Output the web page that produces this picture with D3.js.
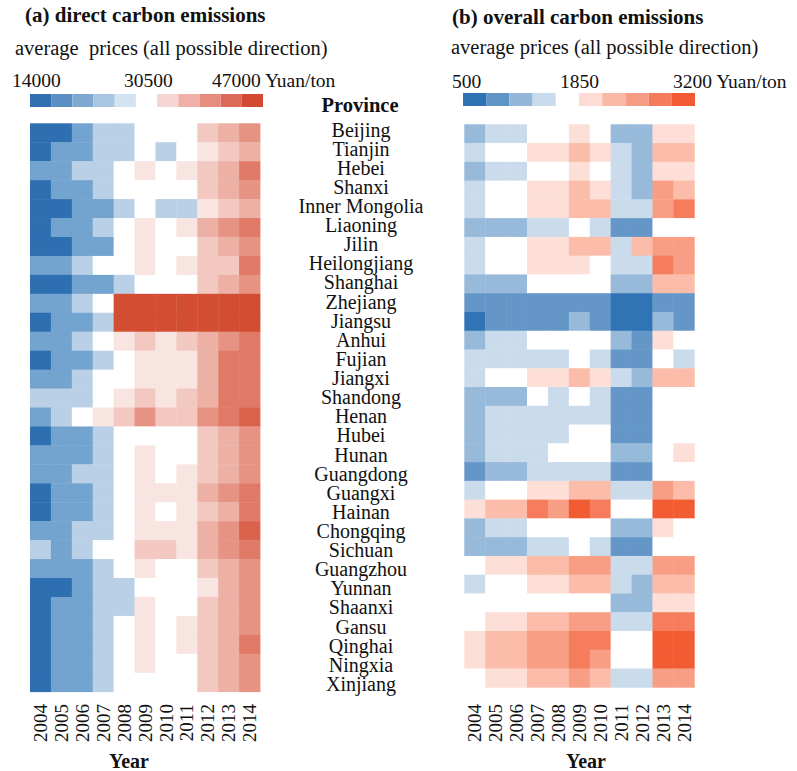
<!DOCTYPE html>
<html>
<head>
<meta charset="utf-8">
<script src="https://cdn.jsdelivr.net/npm/d3@7"></script>
<style>
  body { margin: 0; background: #fff; }
  svg text { font-family: "Liberation Serif", "Times New Roman", serif; fill: #111; white-space: pre; }
</style>
</head>
<body>
<div id="chart"></div>
<script>
// data
var years = ["2004","2005","2006","2007","2008","2009","2010","2011","2012","2013","2014"];
var provinces = ["Beijing","Tianjin","Hebei","Shanxi","Inner Mongolia","Liaoning","Jilin","Heilongjiang",
    "Shanghai","Zhejiang","Jiangsu","Anhui","Fujian","Jiangxi","Shandong","Henan","Hubei","Hunan",
    "Guangdong","Guangxi","Hainan","Chongqing","Sichuan","Guangzhou","Yunnan","Shaanxi","Gansu",
    "Qinghai","Ningxia","Xinjiang"];

// (a) price class per cell: -3 dark blue ... 0 white ... 7 deepest red
var directLevels = [
    [-3,-3,-2,-1,-1,0,0,0,2,3,4],
    [-3,-2,-2,-1,-1,0,-1,0,1,2,3],
    [-2,-2,-1,-1,0,1,0,1,2,3,5],
    [-3,-2,-2,-1,0,0,0,0,2,3,4],
    [-3,-3,-2,-2,-1,0,-1,-1,1,2,3],
    [-3,-2,-2,-1,0,1,0,1,3,4,5],
    [-3,-3,-2,-2,0,1,0,0,2,3,4],
    [-2,-2,-1,0,0,1,0,1,2,2,5],
    [-3,-3,-2,-2,-1,0,0,0,2,3,4],
    [-2,-2,-1,0,7,7,7,7,7,7,7],
    [-3,-2,-2,-1,7,7,7,7,7,7,7],
    [-2,-2,-1,0,1,2,1,2,3,4,5],
    [-3,-2,-2,-1,0,1,1,1,3,5,5],
    [-2,-2,-1,0,0,1,1,1,3,5,5],
    [-1,-1,-1,0,1,2,1,2,3,5,5],
    [-2,-1,0,1,2,4,2,2,4,5,6],
    [-3,-2,-2,-1,0,0,0,0,2,3,4],
    [-2,-2,-2,-1,0,1,0,0,2,3,4],
    [-2,-2,-1,-1,0,1,0,1,2,3,4],
    [-3,-2,-2,-1,0,1,1,1,3,4,5],
    [-3,-2,-2,-1,0,1,0,1,2,3,5],
    [-2,-2,-1,-1,0,1,1,1,3,4,6],
    [-1,-2,-1,0,0,2,2,1,3,4,5],
    [-2,-2,-2,-1,0,1,0,0,2,3,4],
    [-3,-3,-2,-1,-1,0,0,0,1,3,4],
    [-3,-2,-2,-1,-1,1,0,0,2,3,4],
    [-3,-2,-2,-1,0,1,0,1,2,3,4],
    [-3,-2,-2,-1,0,1,0,1,2,3,5],
    [-3,-2,-2,-1,0,1,0,0,2,3,4],
    [-3,-2,-2,-1,0,0,0,0,2,3,4]
];

// (b) price class per cell: -4 dark blue ... 0 white ... 5 dark red
var overallLevels = [
    [-2,-1,-1,0,0,1,0,-2,-2,1,1],
    [-1,0,0,1,1,2,1,-1,-2,2,2],
    [-2,-1,-1,0,0,1,0,-1,-2,1,1],
    [-1,0,0,1,1,2,1,-1,-2,3,2],
    [-1,0,0,1,1,2,2,-1,-1,3,4],
    [-2,-2,-2,-1,-1,0,-1,-3,-3,0,0],
    [-1,0,0,1,1,2,2,-1,2,3,3],
    [-1,0,0,1,1,1,0,-1,-1,4,3],
    [-2,-2,-2,0,0,0,0,-2,-2,2,2],
    [-3,-3,-3,-3,-3,-3,-3,-4,-4,-3,-3],
    [-4,-3,-3,-3,-3,-2,-3,-4,-4,-2,-3],
    [-2,-1,-1,0,0,0,0,-2,-3,1,0],
    [-1,-1,-1,-1,-1,0,-1,-3,-3,0,-1],
    [-1,0,0,1,1,2,1,-1,-2,2,2],
    [-2,-2,-2,0,-1,0,-1,-3,-3,0,0],
    [-2,-1,-1,-1,-1,-1,-1,-3,-3,0,0],
    [-2,-1,-1,-1,-1,0,0,-3,-3,0,0],
    [-2,-1,-1,-1,0,0,0,-2,-2,0,1],
    [-3,-2,-2,-1,-1,-1,-1,-3,-3,0,0],
    [-1,0,0,1,1,2,2,-1,-1,3,2],
    [1,2,2,4,3,5,4,0,0,5,5],
    [-2,-1,-1,0,0,0,0,-2,-2,1,0],
    [-2,-2,-2,-1,-1,0,-1,-3,-3,0,0],
    [0,1,1,2,2,3,3,-1,-1,3,3],
    [-1,0,0,1,1,2,2,-1,-2,2,2],
    [0,0,0,0,0,0,0,-2,-2,1,1],
    [0,1,1,2,2,3,3,-1,-1,4,4],
    [1,2,2,3,3,4,4,0,0,5,5],
    [1,2,2,3,3,4,3,0,0,5,5],
    [0,1,1,2,2,3,2,-1,-1,3,3]
];

var directTicks = ["14000", "30500", "47000 Yuan/ton"];
var overallTicks = ["500", "1850", "3200 Yuan/ton"];

var W = 797, H = 771;
var svg = d3.select("#chart").append("svg")
    .attr("width", W)
    .attr("height", H);

function Heatmap(opts) {
    var self = this;
    self.o = opts;
    self.init();
}

Heatmap.prototype.init = function() {
    var self = this;
    var o = self.o;
    self.g = svg.append("g");

    // title + subtitle
    self.g.append("text")
        .attr("x", o.titleX).attr("y", o.titleY)
        .attr("font-size", "21px").attr("font-weight", "bold")
        .text(o.title);
    self.g.append("text")
        .attr("x", o.subX).attr("y", o.subY)
        .attr("font-size", "20.5px")
        .text(o.subtitle);

    // legend swatches, the middle slot stays empty
    var nSlots = o.legendColors.length;
    var lx = d3.scaleBand().domain(d3.range(nSlots)).range(o.legendRange);
    self.g.selectAll("rect.leg").data(o.legendColors)
        .enter().append("rect")
        .attr("class", "leg")
        .attr("x", function(d, i) { return lx(i); })
        .attr("y", o.legendY)
        .attr("width", lx.bandwidth())
        .attr("height", 13)
        .attr("fill", function(d) { return d; });

    self.g.selectAll("text.tick").data(o.ticks)
        .enter().append("text")
        .attr("class", "tick")
        .attr("x", function(d, i) { return o.tickX[i]; })
        .attr("y", o.tickY)
        .attr("font-size", "19.5px")
        .text(function(d) { return d; });

    self.update();
};

Heatmap.prototype.update = function() {
    var self = this;
    var o = self.o;

    var x = d3.scaleBand().domain(years).range([o.x0, o.x1]);
    var y = d3.scaleBand().domain(provinces).range([o.y0, o.y1]);
    var color = d3.scaleOrdinal().domain(o.levelDomain).range(o.cellColors);

    var cells = [];
    o.levels.forEach(function(row, i) {
        row.forEach(function(v, j) {
            cells.push({prov: provinces[i], year: years[j], level: v});
        });
    });

    self.g.selectAll("rect.cell").data(cells)
        .enter().append("rect")
        .attr("class", "cell")
        .attr("x", function(d) { return x(d.year); })
        .attr("y", function(d) { return y(d.prov); })
        .attr("width", x.bandwidth() + 0.4)
        .attr("height", y.bandwidth() + 0.4)
        .attr("fill", function(d) { return color(d.level); });

    // rotated year labels under the grid
    self.g.selectAll("text.year").data(years)
        .enter().append("text")
        .attr("class", "year")
        .attr("transform", function(d) {
            return "translate(" + (x(d) + x.bandwidth() / 2) + "," + o.yearTop + ") rotate(-90)";
        })
        .attr("dy", "0.35em")
        .attr("text-anchor", "end")
        .attr("font-size", "19px")
        .text(function(d) { return d; });

    self.g.append("text")
        .attr("x", o.yearLabelX).attr("y", 768)
        .attr("text-anchor", "middle")
        .attr("font-size", "20px").attr("font-weight", "bold")
        .text("Year");
};

var blueA = ["#2e6fb2", "#73a3cf", "#b9d0e6"];
var redA = ["#f8e4e1", "#f3c8c0", "#edb0a5", "#e69384", "#e07a67", "#d9624c", "#d24d32"];

var left = new Heatmap({
    title: "(a) direct carbon emissions",
    subtitle: "average  prices (all possible direction)",
    titleX: 25, titleY: 22, subX: 15, subY: 55,
    legendColors: ["#2f6fb2", "#5b8fc4", "#7ea8d2", "#a8c5e1", "#d4e3f1", "#ffffff",
                   "#f6d6d2", "#efb1a7", "#e68d7f", "#dd6a59", "#d24a31"],
    legendRange: [30, 263], legendY: 94,
    ticks: directTicks, tickX: [12, 124, 212], tickY: 87,
    levels: directLevels,
    levelDomain: [-3, -2, -1, 0, 1, 2, 3, 4, 5, 6, 7],
    cellColors: blueA.concat(["#ffffff"]).concat(redA),
    x0: 30, x1: 260, y0: 123.3, y1: 691.7,
    yearTop: 704, yearLabelX: 129
});

var right = new Heatmap({
    title: "(b) overall carbon emissions",
    subtitle: "average prices (all possible direction)",
    titleX: 452, titleY: 24, subX: 451, subY: 54,
    legendColors: ["#2f72b4", "#5f94c6", "#93b6d9", "#c9dbec", "#ffffff",
                   "#fcdcd5", "#fab9a7", "#f69c82", "#f47b5c", "#f15a33"],
    legendRange: [463, 695], legendY: 93,
    ticks: overallTicks, tickX: [452, 560, 673], tickY: 88,
    levels: overallLevels,
    levelDomain: [-4, -3, -2, -1, 0, 1, 2, 3, 4, 5],
    cellColors: ["#3174b5", "#6497c7", "#97b9da", "#cadbec", "#ffffff",
                 "#fddfd7", "#fbbca9", "#f79e84", "#f57d5d", "#f15c33"],
    x0: 464.3, x1: 694.3, y0: 124.3, y1: 687.3,
    yearTop: 704, yearLabelX: 586
});

// province names between the two grids
var py = d3.scaleBand().domain(provinces).range([123.5, 697]);
svg.append("text")
    .attr("x", 360).attr("y", 112)
    .attr("text-anchor", "middle")
    .attr("font-size", "20.5px").attr("font-weight", "bold")
    .text("Province");
svg.selectAll("text.prov").data(provinces)
    .enter().append("text")
    .attr("class", "prov")
    .attr("x", 361)
    .attr("y", function(d) { return py(d) + py.bandwidth() / 2 + 3.5; })
    .attr("text-anchor", "middle")
    .attr("font-size", "20px")
    .text(function(d) { return d; });
</script>
</body>
</html>
